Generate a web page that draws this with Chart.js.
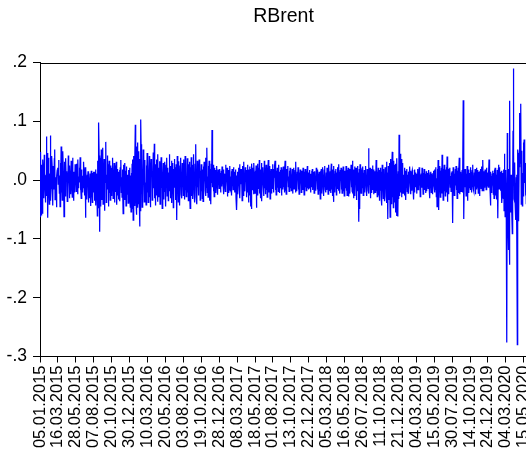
<!DOCTYPE html>
<html><head><meta charset="utf-8">
<script src="https://cdn.jsdelivr.net/npm/chart.js@4/dist/chart.umd.min.js"></script>
<style>html,body{margin:0;padding:0;background:#fff;overflow:hidden}#wrap{position:relative;width:528px;height:451px}</style>
</head><body><div id="wrap"><canvas id="c"></canvas></div>
<script>
const chartTitle = 'RBrent';
// daily log returns of Brent (05.01.2015 ... end of May 2020)
const rBrent = [
-.062,-.041,.048,-.059,.012,.026,-.056,-.008,.035,.019,
.004,-.031,.043,.016,-.012,-.038,-.021,.009,.074,-.027,
.046,.012,-.064,.038,.027,-.006,-.041,.006,.011,.076,
-.035,-.014,.003,.041,.022,-.011,-.043,.024,-.008,-.016,
.036,.052,-.033,.005,-.025,-.002,-.046,.007,.017,.021,
.018,-.007,.034,.011,-.022,.008,-.045,.029,-.016,.057,
-.021,-.003,-.034,.024,.049,.014,.006,-.062,.031,-.009,
-.013,-.028,.037,.004,.012,.015,-.036,-.005,-.012,.042,
.019,.001,-.031,.025,-.006,.007,-.024,.033,.014,-.008,
-.029,.038,-.011,-.002,-.035,.014,.003,-.021,.027,.009,
.012,-.019,.028,.008,-.006,-.024,.035,-.013,.006,.002,
.021,-.004,.039,-.017,-.011,-.031,.018,.009,.005,-.021,
.007,-.014,.031,.006,-.026,-.005,.022,-.064,.019,-.002,
-.012,-.033,.009,.004,.015,-.038,.013,-.007,-.012,-.031,
.011,-.044,-.008,.016,.002,-.022,-.038,.012,-.003,.014,
-.021,.014,-.035,-.009,.006,.018,-.043,.011,-.029,-.004,
-.061,.033,-.047,.045,.098,.042,-.015,-.088,.038,.015,
-.045,.052,-.034,.017,.007,.055,-.041,.023,-.012,.036,
-.052,.019,-.004,.031,.065,-.038,-.014,.009,.042,-.016,
.027,-.045,.008,.033,-.022,.011,-.034,.025,.002,-.018,
-.027,.021,.003,.038,-.031,.016,-.006,.029,-.038,-.002,
-.019,.025,.011,.031,-.042,-.008,.019,-.026,.014,.004,
-.033,-.008,.017,-.036,.022,.005,.034,-.021,.005,-.029,
.018,-.012,-.057,.026,.008,.011,-.034,.029,-.007,.016,
-.044,.023,.003,-.013,-.025,.009,-.039,.017,-.022,.012,
.021,-.032,-.046,.008,-.054,.012,-.037,.028,-.049,.035,
-.068,.041,-.006,.019,-.044,.032,.094,.045,-.038,-.059,
.057,.009,.064,-.047,.003,-.041,.049,-.033,-.079,.036,
-.052,.103,.061,-.024,.038,-.046,-.007,-.031,.052,.018,
.043,-.037,.015,.034,-.028,-.004,-.042,.025,-.009,.046,
-.021,.033,-.038,.007,-.012,.041,-.029,.024,-.046,.013,
.036,.009,.028,-.034,.008,-.025,.047,-.014,-.002,.062,
-.031,.016,-.043,.027,.011,.035,-.026,.002,-.037,.044,
-.017,.021,-.029,-.009,.032,-.041,.018,.002,.039,-.013,
.026,-.048,.005,-.006,.029,-.033,.011,-.019,.031,.004,
.017,-.045,.026,-.004,.038,-.027,.009,.021,-.035,.013,
-.018,.044,-.002,.007,-.031,.024,-.011,.033,-.039,.006,
-.008,.029,-.047,.019,.005,.036,-.013,.022,-.034,-.011,
.027,-.021,-.068,.041,-.008,.015,-.037,.032,-.009,.018,
-.043,.025,.006,.038,-.024,.012,-.031,.029,-.006,.021,
-.026,.035,-.002,.019,-.033,.041,-.017,.008,-.028,.004,
-.011,.037,-.021,.014,-.035,.027,.009,.031,-.019,-.048,
.022,-.014,.039,-.027,.001,.026,-.032,.017,-.006,.044,
-.023,.013,-.038,.028,-.005,.061,-.029,.008,-.041,.033,
-.012,.021,-.026,.009,.035,.008,.024,-.034,.016,-.021,
.027,-.019,.002,-.031,.018,-.036,.023,-.008,.031,.004,
.015,-.017,.038,-.027,.011,-.013,.055,-.021,.006,-.029,
.024,.001,.033,-.035,.007,.019,-.023,-.041,.028,-.005,
.085,.034,-.012,.026,-.019,.004,-.028,.021,-.007,.017,
-.022,.009,-.006,.024,-.013,.011,-.025,.018,.003,.013,
-.014,.019,.002,.012,-.021,-.007,.016,-.011,.023,.003,
.005,-.009,.018,-.024,.011,-.006,-.004,-.019,.026,-.012,
.008,.005,.021,-.028,.013,-.004,.017,-.022,-.009,-.013,
.024,-.018,.006,.001,.015,-.026,.019,-.007,.012,-.016,
.022,.009,.004,-.021,.014,-.012,.018,-.031,.008,-.051,
-.018,.014,-.024,.009,.002,.021,-.016,.027,-.031,.011,
-.007,.019,.006,.013,-.035,.024,-.009,.016,-.027,.031,
-.014,.006,-.019,.022,.001,.017,-.029,.012,-.004,.026,
-.021,-.009,-.038,.018,-.013,.023,-.026,.015,-.045,.019,
-.049,.028,-.002,.021,-.017,.011,-.024,.029,.008,.014,
-.022,.016,.001,.025,-.047,.012,-.019,.028,-.026,.009,
.021,-.015,.034,-.023,.007,-.031,.018,.002,.029,-.036,
.014,-.008,.022,-.009,.011,-.027,.033,-.014,.019,-.024,
.006,.026,-.017,.012,-.029,.021,.009,.034,-.021,.003,
-.016,.024,-.032,.015,-.006,.019,-.023,.011,-.004,.027,
-.015,.019,-.021,.011,.008,.024,.033,-.017,.012,-.025,
.016,-.006,.021,-.013,.009,-.019,.026,.001,.014,-.022,
.007,.017,-.014,.022,-.026,.002,-.009,.018,-.016,.023,
-.012,.008,-.021,.015,.033,-.018,.011,-.024,.019,-.007,
.013,.003,.024,-.011,.006,-.019,.016,-.009,.021,-.014,
.012,-.018,.009,.001,.019,-.023,.014,-.006,.021,-.015,
.011,-.008,.017,-.021,.031,-.012,.007,-.019,.014,.002,
.022,-.016,.005,-.024,.013,-.011,.018,.007,.012,-.021,
.016,-.013,.009,-.017,.021,-.008,.001,-.025,.014,-.004,
.019,-.012,.008,-.018,.015,.003,.024,-.014,.006,-.016,
.013,-.009,.017,-.014,.008,-.021,.011,.004,.016,-.012,
.019,-.017,.006,-.011,.014,-.022,.009,.015,-.013,.007,
-.018,.021,.002,.012,-.016,.018,-.024,.011,-.005,.014,
-.019,.008,-.032,.016,.003,.019,-.023,.012,-.008,.022,
-.015,.009,-.027,.018,-.012,.024,-.016,.001,-.021,.013,
-.017,.021,-.009,.014,-.024,.011,.026,.003,.008,-.019,
.015,-.022,.012,.028,-.016,.009,-.027,.018,-.011,-.037,
.024,-.014,.011,-.021,.016,.004,.019,-.025,.013,-.006,
.022,-.015,.009,-.018,.027,-.012,.014,-.023,.017,.002,
.021,-.016,.007,-.022,.018,-.011,.023,-.019,.012,-.027,
.016,-.021,.011,-.014,.024,-.018,.009,-.026,.017,.002,
.021,-.028,.013,-.007,.019,-.023,.012,.004,.026,-.012,
.008,-.019,.033,-.021,.014,-.031,.018,-.009,.023,-.027,
.011,.003,.021,-.034,.016,-.012,.024,-.019,.013,-.025,
-.071,.019,-.049,.027,-.016,.012,-.022,.018,.001,.021,
-.014,.023,-.026,.012,-.009,.017,-.021,.011,.006,.024,
-.012,.008,-.027,.019,-.011,.014,-.018,.054,-.023,.016,
-.008,.021,-.031,.013,.004,.019,-.022,.009,.025,-.017,
.012,-.024,.018,-.006,.015,-.021,.011,-.013,.034,-.019,
.022,-.028,.014,-.009,.021,-.026,.013,-.035,.017,-.012,
-.018,.021,-.029,.014,-.043,.026,-.017,.011,-.031,.019,
-.024,.008,-.036,.022,-.012,.017,-.028,.031,-.039,.013,
-.021,-.066,.024,-.034,.015,-.027,.029,-.063,.036,-.018,
.021,-.041,.019,.048,-.029,.012,-.047,.033,-.022,.026,
-.038,.014,-.055,.028,-.019,-.061,.037,-.024,.011,-.062,
.015,-.032,.077,.018,-.027,.045,-.021,.012,.036,-.029,
.024,-.016,.029,-.022,.009,-.018,.004,-.026,.021,-.008,
.016,-.034,.012,.003,.019,-.019,.009,-.022,.014,-.016,
.007,.002,.023,-.011,.016,-.024,.006,-.018,.011,.017,
.012,-.015,.009,-.033,.004,-.021,.018,-.006,.013,-.012,
.009,-.023,.011,-.007,.019,-.016,.006,-.011,.022,-.009,
.015,-.028,.008,.005,.011,-.013,.021,-.009,.007,-.024,
.012,-.011,.019,-.017,.003,-.006,.011,-.022,.015,-.019,
.008,.004,.012,-.014,.006,.017,-.012,.009,-.031,.013,
-.008,.014,-.021,.011,-.016,.009,-.024,.012,-.011,.016,
-.012,.018,-.021,.009,-.017,.022,-.028,.003,-.045,.019,
-.014,.034,-.026,-.051,.024,-.008,.011,-.029,.016,-.008,
.021,-.023,.043,-.016,.012,-.034,.019,.001,.026,-.019,
.008,-.027,.018,-.013,.022,-.021,.040,-.037,.014,-.009,
.019,-.024,.011,.006,.021,-.012,.007,-.019,.013,-.008,
.015,-.018,-.073,.022,-.014,.017,-.026,.011,-.021,.019,
-.009,.024,-.017,.012,-.031,.016,-.008,.021,-.022,.013,
.038,-.013,-.024,.009,.014,-.019,.011,-.013,.017,-.021,
.006,.136,-.015,-.066,.008,-.012,.019,-.009,.013,-.027,
.011,-.016,.024,-.035,.014,-.006,.018,-.022,.012,-.014,
.011,-.017,.022,-.009,.014,-.021,.017,-.012,.026,-.015,
.008,-.019,.013,-.011,.019,-.024,.012,-.007,.021,-.016,
.009,-.013,.017,-.022,.014,-.008,.011,-.027,.016,-.012,
.019,-.014,.007,.023,-.018,.012,.034,-.011,.015,-.019,
.009,-.013,.018,-.007,.011,-.016,.021,-.009,.013,-.011,
.009,-.012,.015,.035,-.008,.011,-.019,-.043,.014,-.021,
.007,-.014,.011,-.009,.016,-.024,.012,-.031,.018,-.011,
.021,-.026,.014,-.019,.009,-.033,.017,-.024,-.065,.019,
.026,-.015,.022,-.012,.014,-.018,.011,-.009,.016,-.039,
-.022,.012,-.024,-.031,.018,-.052,.045,.021,-.062,.017,
.011,-.027,-.099,-.276,.080,-.039,-.075,.019,-.119,-.045,
-.144,.135,-.054,.002,.004,.009,-.039,-.055,-.091,-.001,
.084,.190,.045,-.032,-.036,.030,-.042,-.068,-.067,.005,
.009,-.094,-.280,.052,.046,.005,-.070,.023,.097,.114,
.045,.028,.130,-.041,-.009,.050,-.044,.012,-.027,.064,
.043,.069,-.005,.031,.009,-.026,.029,-.040,.016,.001
];
// observation numbers that carry a date label, and the labels themselves
const xTickObs = [0,50,100,150,200,250,300,350,400,450,500,550,600,650,700,750,800,850,900,950,1000,1050,1100,1150,1200,1250,1300,1350];
const xTickLabels = ['05.01.2015','16.03.2015','28.05.2015','07.08.2015','20.10.2015','30.12.2015','10.03.2016','20.05.2016','03.08.2016','19.10.2016','28.12.2016','08.03.2017','18.05.2017','01.08.2017','13.10.2017','22.12.2017','05.03.2018','16.05.2018','26.07.2018','11.10.2018','21.12.2018','04.03.2019','15.05.2019','30.07.2019','14.10.2019','24.12.2019','04.03.2020','15.05.2020'];
const yTickValues = [-0.3,-0.2,-0.1,0,0.1,0.2];
const yTickLabels = ['-.3','-.2','-.1','.0','.1','.2'];

Chart.defaults.font.family = "'Liberation Sans', Arial, sans-serif";
Chart.defaults.color = '#000';

const points = rBrent.map((v, i) => ({x: i, y: v}));

const topBorder = {
  id: 'topBorder',
  afterDraw(chart) {
    const {ctx, chartArea: a} = chart;
    ctx.save();
    ctx.strokeStyle = '#000';
    ctx.lineWidth = 1;
    const y = Math.round(a.top) + 0.5;
    ctx.beginPath();
    ctx.moveTo(a.left, y);
    ctx.lineTo(a.right + 2, y);
    ctx.stroke();
    ctx.restore();
  }
};

new Chart(document.getElementById('c'), {
  type: 'line',
  data: {datasets: [{data: points, borderColor: '#0000ff', borderWidth: 1.25, pointRadius: 0, tension: 0, fill: false}]},
  options: {
    responsive: true, maintainAspectRatio: false, animation: false, parsing: false, normalized: true,
    layout: {padding: {left: 0, right: 1, top: 0, bottom: 0}},
    plugins: {
      legend: {display: false},
      tooltip: {enabled: false},
      title: {display: true, fullSize: false, text: chartTitle, color: '#000', font: {size: 19.5, weight: 'normal'}, padding: {top: 5, bottom: 34.1}}
    },
    scales: {
      x: {
        type: 'linear', min: 0, max: rBrent.length - 1,
        afterBuildTicks(s) { s.ticks = xTickObs.map(v => ({value: v})); },
        afterFit(s) { s.height = 94.5; s.paddingLeft = 0; s.paddingRight = 0; },
        ticks: {autoSkip: false, minRotation: 90, maxRotation: 90, padding: 3, color: '#000', font: {size: 16.5},
          callback: (v) => xTickLabels[xTickObs.indexOf(v)]},
        grid: {drawOnChartArea: false, drawTicks: true, tickLength: 6, color: '#000'},
        border: {display: true, color: '#000', width: 1}
      },
      y: {
        min: -0.3, max: 0.2,
        afterBuildTicks(s) { s.ticks = yTickValues.map(v => ({value: v})); },
        afterFit(s) { s.width = 40; s.paddingTop = 0; s.paddingBottom = 0; },
        ticks: {padding: 6, color: '#000', font: {size: 17.5},
          callback: (v) => { const i = yTickValues.findIndex(t => Math.abs(t - v) < 1e-9); return i >= 0 ? yTickLabels[i] : ''; }},
        grid: {drawOnChartArea: false, drawTicks: true, tickLength: 7, color: '#000'},
        border: {display: true, color: '#000', width: 1}
      }
    }
  },
  plugins: [topBorder]
});
</script>
</body></html>
